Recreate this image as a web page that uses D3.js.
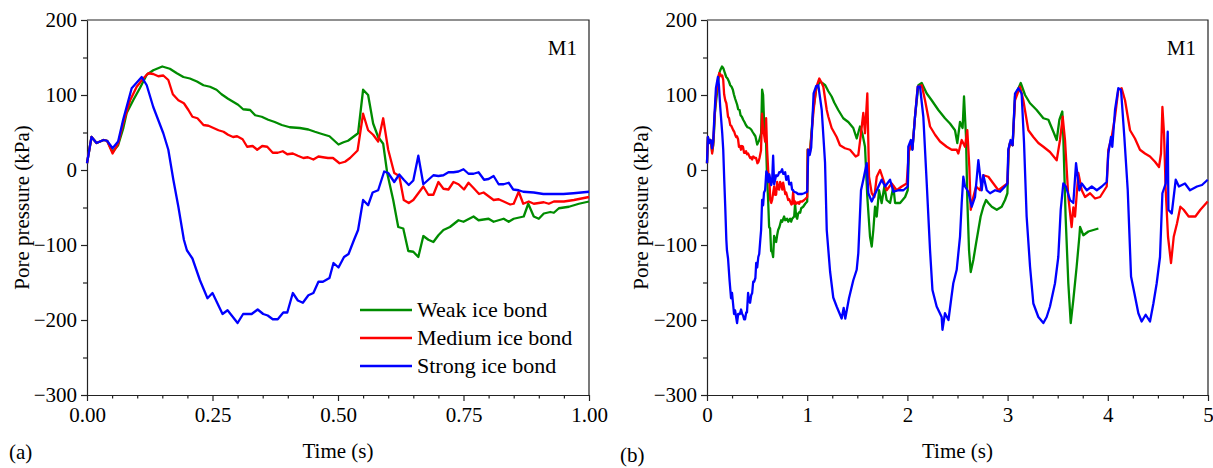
<!DOCTYPE html>
<html><head><meta charset="utf-8">
<script src="https://cdn.jsdelivr.net/npm/d3@7"></script>
<style>
html,body{margin:0;padding:0;background:#fff;}
</style></head>
<body>
<svg id="chart" width="1213" height="468"></svg>
<script>
// ---------- Data ----------
const seriesNames = ["Weak ice bond", "Medium ice bond", "Strong ice bond"];
const seriesColors = ["#008c00", "#ff0000", "#0000ff"];

const yTicks = [-300, -200, -100, 0, 100, 200];
const xTicksA = [0, 0.25, 0.5, 0.75, 1.0];
const xTicksB = [0, 1, 2, 3, 4, 5];

// Panel (a): [time s, pore pressure kPa]
const weakA = [[0,9],[0.009,44],[0.019,36],[0.033,40],[0.04,39],[0.051,24],[0.062,33],[0.072,55],[0.079,76],[0.092,93],[0.106,110],[0.119,127],[0.132,133],[0.15,138],[0.165,135],[0.179,129],[0.192,124],[0.205,122],[0.219,118],[0.232,113],[0.245,111],[0.258,107],[0.268,101],[0.281,95],[0.291,91],[0.301,87],[0.311,81],[0.325,80],[0.335,73],[0.348,71],[0.361,67],[0.374,64],[0.388,60],[0.404,57],[0.424,56],[0.441,54],[0.454,51],[0.468,48],[0.483,45],[0.501,34],[0.511,37],[0.52,39],[0.53,44],[0.54,49],[0.55,107],[0.56,100],[0.57,62],[0.58,44],[0.59,35],[0.598,-4],[0.61,-40],[0.62,-76],[0.63,-78],[0.64,-108],[0.65,-109],[0.66,-116],[0.67,-88],[0.68,-93],[0.69,-96],[0.70,-87],[0.71,-80],[0.723,-76],[0.74,-67],[0.75,-69],[0.77,-62],[0.78,-67],[0.80,-65],[0.81,-69],[0.83,-65],[0.84,-69],[0.85,-65],[0.87,-62],[0.879,-45],[0.89,-62],[0.90,-65],[0.91,-58],[0.923,-56],[0.93,-57],[0.94,-51],[0.96,-49],[0.98,-45],[1.0,-42]];
const mediumA = [[0,9],[0.009,44],[0.019,36],[0.033,40],[0.04,39],[0.051,22],[0.062,35],[0.072,62],[0.086,93],[0.099,111],[0.112,122],[0.122,129],[0.132,128],[0.142,125],[0.152,126],[0.162,120],[0.171,101],[0.182,93],[0.193,89],[0.202,80],[0.21,71],[0.22,69],[0.232,60],[0.242,59],[0.252,56],[0.262,53],[0.272,51],[0.281,47],[0.291,44],[0.299,45],[0.31,41],[0.319,31],[0.33,32],[0.339,27],[0.349,32],[0.359,31],[0.37,23],[0.38,23],[0.39,25],[0.399,21],[0.41,22],[0.42,19],[0.431,16],[0.44,17],[0.451,14],[0.461,18],[0.47,17],[0.48,16],[0.49,16],[0.503,9],[0.514,11],[0.524,16],[0.539,26],[0.55,75],[0.56,53],[0.57,47],[0.58,38],[0.59,69],[0.60,27],[0.612,-4],[0.622,-8],[0.631,-40],[0.641,-44],[0.65,-40],[0.67,-22],[0.68,-33],[0.69,-33],[0.70,-16],[0.71,-25],[0.72,-26],[0.73,-16],[0.74,-19],[0.751,-26],[0.76,-17],[0.77,-24],[0.781,-32],[0.79,-30],[0.80,-35],[0.81,-40],[0.82,-39],[0.83,-42],[0.843,-46],[0.85,-45],[0.86,-29],[0.869,-45],[0.88,-42],[0.89,-45],[0.90,-44],[0.91,-43],[0.92,-45],[0.93,-42],[0.95,-42],[0.97,-40],[1.0,-36]];
const strongA = [[0,9],[0.009,44],[0.019,36],[0.033,40],[0.04,39],[0.051,29],[0.062,38],[0.072,67],[0.089,109],[0.109,124],[0.119,113],[0.132,84],[0.152,49],[0.162,27],[0.172,-13],[0.182,-49],[0.193,-93],[0.199,-107],[0.21,-118],[0.225,-147],[0.24,-171],[0.25,-164],[0.27,-192],[0.28,-187],[0.30,-204],[0.311,-192],[0.328,-192],[0.34,-186],[0.351,-192],[0.36,-194],[0.37,-199],[0.38,-199],[0.391,-190],[0.399,-190],[0.41,-164],[0.42,-174],[0.43,-177],[0.441,-167],[0.451,-164],[0.461,-149],[0.47,-149],[0.483,-144],[0.491,-124],[0.501,-130],[0.512,-116],[0.521,-112],[0.532,-93],[0.54,-80],[0.55,-40],[0.56,-47],[0.569,-30],[0.58,-27],[0.592,-2],[0.60,-4],[0.612,-16],[0.622,-6],[0.631,-13],[0.641,-20],[0.65,-14],[0.66,19],[0.67,-19],[0.68,-13],[0.69,-7],[0.70,-8],[0.71,-7],[0.72,-3],[0.73,-3],[0.74,-2],[0.75,1],[0.76,-5],[0.77,-5],[0.78,-3],[0.791,-13],[0.80,-12],[0.81,-8],[0.82,-19],[0.83,-19],[0.84,-17],[0.849,-26],[0.86,-27],[0.869,-29],[0.89,-30],[0.909,-32],[0.929,-32],[0.949,-32],[0.969,-31],[1.0,-29]];

// Panel (b): first cycle is the same record as panel (a); later cycles below
const weakB2 = [[1.005,27],[1.015,20],[1.03,28],[1.06,80],[1.09,108],[1.125,118],[1.15,116],[1.18,113],[1.211,105],[1.244,98],[1.27,90],[1.31,80],[1.36,69],[1.41,64],[1.46,56],[1.494,42],[1.527,58],[1.55,49],[1.577,31],[1.6,-36],[1.627,-89],[1.644,-102],[1.66,-80],[1.677,-49],[1.694,-62],[1.717,-27],[1.743,-44],[1.77,-22],[1.793,-40],[1.827,-44],[1.86,-22],[1.877,-44],[1.927,-44],[1.977,-36],[2.003,-27],
 [2.015,25],[2.035,33],[2.05,28],[2.076,71],[2.11,113],[2.143,116],[2.193,102],[2.242,93],[2.309,80],[2.375,69],[2.425,62],[2.475,53],[2.498,36],[2.525,64],[2.551,56],[2.565,98],[2.585,44],[2.598,-40],[2.615,-107],[2.632,-136],[2.658,-120],[2.685,-98],[2.708,-80],[2.731,-62],[2.758,-49],[2.785,-40],[2.808,-44],[2.842,-49],[2.892,-53],[2.941,-49],[2.974,-40],[2.998,-31],
 [3.01,27],[3.024,36],[3.05,33],[3.074,98],[3.131,116],[3.174,100],[3.224,89],[3.29,80],[3.357,69],[3.407,67],[3.457,51],[3.49,40],[3.517,67],[3.546,78],[3.556,44],[3.579,-62],[3.606,-151],[3.63,-204],[3.656,-173],[3.689,-129],[3.716,-89],[3.723,-76],[3.756,-87],[3.806,-82],[3.856,-80],[3.906,-78]];
const mediumB2 = [[1.005,27],[1.015,20],[1.028,24],[1.064,80],[1.09,110],[1.121,122],[1.145,116],[1.161,111],[1.195,80],[1.211,71],[1.244,56],[1.294,44],[1.327,33],[1.377,29],[1.427,27],[1.484,18],[1.51,20],[1.537,49],[1.56,76],[1.577,49],[1.6,102],[1.617,-9],[1.644,-31],[1.67,-36],[1.694,-9],[1.727,0],[1.76,-13],[1.793,-27],[1.843,-18],[1.893,-27],[1.943,-22],[1.993,-18],
 [2.015,25],[2.035,33],[2.05,28],[2.076,71],[2.103,111],[2.143,113],[2.176,93],[2.226,58],[2.276,47],[2.326,38],[2.392,31],[2.442,27],[2.492,27],[2.508,22],[2.542,40],[2.575,31],[2.598,53],[2.618,4],[2.632,-53],[2.658,-36],[2.685,-22],[2.725,-27],[2.758,-7],[2.808,-9],[2.858,-18],[2.908,-27],[2.958,-22],[2.998,-18],
 [3.01,27],[3.024,36],[3.05,33],[3.074,93],[3.124,111],[3.157,93],[3.207,53],[3.257,44],[3.307,36],[3.357,31],[3.423,24],[3.49,13],[3.523,40],[3.55,71],[3.573,40],[3.606,-36],[3.639,-76],[3.656,-50],[3.673,-62],[3.706,-4],[3.74,-27],[3.773,-36],[3.823,-31],[3.873,-38],[3.923,-36],[3.989,-22],
 [4.005,27],[4.039,44],[4.072,71],[4.105,107],[4.138,109],[4.172,93],[4.222,53],[4.271,42],[4.321,27],[4.371,22],[4.421,18],[4.471,11],[4.511,4],[4.531,22],[4.545,84],[4.561,49],[4.578,-27],[4.601,-89],[4.631,-124],[4.658,-89],[4.691,-71],[4.724,-49],[4.757,-53],[4.807,-62],[4.874,-62],[4.924,-53],[4.997,-42]];
const strongB2 = [[1.011,27],[1.025,20],[1.04,30],[1.064,102],[1.09,112],[1.111,113],[1.145,80],[1.178,10],[1.195,-80],[1.228,-135],[1.26,-170],[1.294,-182],[1.344,-198],[1.364,-184],[1.38,-198],[1.417,-171],[1.46,-147],[1.494,-133],[1.51,-111],[1.537,-27],[1.56,-13],[1.594,9],[1.61,-31],[1.644,-42],[1.694,-27],[1.743,-13],[1.777,-22],[1.827,-13],[1.86,-29],[1.91,-27],[1.96,-27],[2.003,-22],
 [2.009,31],[2.035,40],[2.05,27],[2.076,71],[2.103,111],[2.126,111],[2.159,71],[2.193,-18],[2.226,-107],[2.25,-160],[2.292,-182],[2.342,-196],[2.35,-213],[2.375,-191],[2.41,-200],[2.44,-169],[2.458,-151],[2.492,-133],[2.525,-89],[2.542,-44],[2.558,-9],[2.575,-22],[2.608,-29],[2.642,-49],[2.675,-36],[2.708,13],[2.742,-27],[2.758,-7],[2.792,-27],[2.825,-31],[2.875,-27],[2.925,-29],[2.974,-22],[2.998,-18],
 [3.007,27],[3.03,40],[3.05,33],[3.074,102],[3.107,109],[3.14,102],[3.164,36],[3.19,-62],[3.224,-129],[3.257,-178],[3.307,-196],[3.357,-204],[3.39,-196],[3.423,-182],[3.473,-151],[3.506,-116],[3.53,-53],[3.556,-18],[3.582,-22],[3.623,-40],[3.656,-44],[3.683,9],[3.716,-27],[3.74,-18],[3.79,-27],[3.84,-22],[3.89,-27],[3.94,-22],[3.989,-16],
 [4.005,22],[4.032,44],[4.045,31],[4.072,80],[4.105,109],[4.132,107],[4.165,44],[4.199,-27],[4.232,-142],[4.265,-164],[4.305,-191],[4.338,-202],[4.378,-193],[4.421,-202],[4.455,-178],[4.488,-151],[4.521,-116],[4.545,-31],[4.578,-18],[4.598,51],[4.605,-53],[4.638,-58],[4.678,-13],[4.71,-22],[4.77,-18],[4.82,-27],[4.89,-22],[4.94,-20],[4.997,-13]];

const weakB = weakA.concat(weakB2);
const mediumB = mediumA.concat(mediumB2);
const strongB = strongA.concat(strongB2);

// ---------- Drawing ----------
const FONT = "'Liberation Serif'";
const svg = d3.select("#chart").attr("font-family", FONT);
const yTop = 20, yBot = 395;

function panel(opts) {
  const x = d3.scaleLinear().domain(opts.xDomain).range([opts.x0, opts.x1]);
  const y = d3.scaleLinear().domain([-300, 200]).range([yBot, yTop]);
  const g = svg.append("g");

  // minor ticks
  g.append("g").attr("transform", `translate(0,${yBot})`)
    .call(d3.axisBottom(x).tickValues(opts.xMinor).tickSize(3.5).tickFormat(""))
    .call(a => a.select(".domain").remove());
  g.append("g").attr("transform", `translate(${opts.x0},0)`)
    .call(d3.axisLeft(y).tickValues(d3.range(-250, 200, 100)).tickSize(4).tickFormat(""))
    .call(a => a.select(".domain").remove());

  // major axes
  g.append("g").attr("transform", `translate(0,${yBot})`)
    .call(d3.axisBottom(x).tickValues(opts.xTicks).tickSize(6).tickSizeOuter(0).tickPadding(6).tickFormat(opts.fmt));
  g.append("g").attr("transform", `translate(${opts.x0},0)`)
    .call(d3.axisLeft(y).tickValues(yTicks).tickSize(6).tickSizeOuter(0).tickPadding(4));
  g.selectAll("g").attr("font-family", FONT).attr("font-size", 21);
  g.selectAll(".tick line").attr("stroke", "#222").attr("stroke-width", 1.2);
  g.selectAll(".domain").attr("stroke", "#222").attr("stroke-width", 1.2);
  g.selectAll(".tick text").attr("fill", "#000");

  // top/right frame
  g.append("path").attr("d", `M${opts.x0},${yTop}H${opts.x1}V${yBot}`)
    .attr("fill", "none").attr("stroke", "#222").attr("stroke-width", 1.2);

  // lines
  const line = d3.line().x(d => x(d[0])).y(d => y(d[1]));
  opts.series.forEach((s, i) => {
    g.append("path").datum(s).attr("d", line)
      .attr("fill", "none").attr("stroke", seriesColors[i])
      .attr("stroke-width", 2.3).attr("stroke-linejoin", "round");
  });

  // labels
  g.append("text").attr("x", opts.x1 - 12).attr("y", 55).attr("text-anchor", "end")
    .attr("font-size", 21).text("M1");
  g.append("text").attr("transform", `translate(${opts.yTitleX},${(yTop + yBot) / 2}) rotate(-90)`)
    .attr("text-anchor", "middle").attr("dy", "0.35em").attr("font-size", 21).text("Pore pressure (kPa)");
  g.append("text").attr("x", (opts.x0 + opts.x1) / 2).attr("y", 458).attr("text-anchor", "middle")
    .attr("font-size", 21).text("Time (s)");
  g.append("text").attr("x", opts.tagX).attr("y", opts.tagY).attr("font-size", 21).text(opts.tag);
  return {x, y, g};
}

panel({x0: 87, x1: 589, xDomain: [0, 1], xTicks: xTicksA,
  xMinor: d3.range(0.05, 1, 0.05).filter(v => Math.abs(v / 0.25 - Math.round(v / 0.25)) > 1e-6),
  fmt: d3.format(".2f"), series: [weakA, mediumA, strongA], yTitleX: 22, tagX: 9, tagY: 459, tag: "(a)"});

panel({x0: 707, x1: 1208, xDomain: [0, 5], xTicks: xTicksB,
  xMinor: d3.range(0.25, 5, 0.25).filter(v => Math.abs(v - Math.round(v)) > 1e-6),
  fmt: d3.format("d"), series: [weakB, mediumB, strongB], yTitleX: 641, tagX: 620, tagY: 462, tag: "(b)"});

// legend in panel (a)
const legY = [310, 338, 366];
seriesNames.forEach((n, i) => {
  svg.append("line").attr("x1", 360).attr("x2", 412).attr("y1", legY[i]).attr("y2", legY[i])
    .attr("stroke", seriesColors[i]).attr("stroke-width", 2.3);
  svg.append("text").attr("x", 417).attr("y", legY[i]).attr("dy", "0.33em")
    .attr("font-size", 22).text(n);
});
</script>
</body></html>
